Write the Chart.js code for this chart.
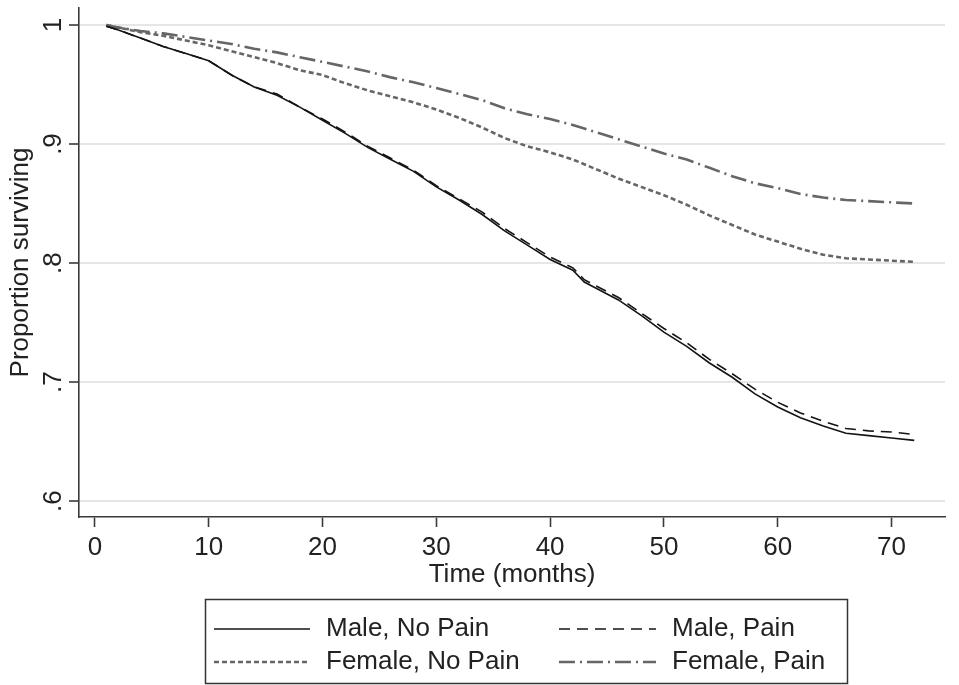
<!DOCTYPE html>
<html>
<head>
<meta charset="utf-8">
<script src="https://cdn.jsdelivr.net/npm/chart.js@4.4.1/dist/chart.umd.min.js"></script>
<style>
  body { margin: 0; background: #fff; }
  #wrap { width: 959px; height: 685px; }
</style>
</head>
<body>
<div id="wrap"><canvas id="chart" width="959" height="685"></canvas></div>
<script>
// follow-up time in months, shared by all four curves
const months = [1, 2, 4, 6, 8, 10, 12, 14, 16, 18, 20, 22, 24, 26, 28, 30, 32, 34, 36, 38,
  40, 42, 43, 44, 46, 48, 50, 52, 54, 56, 58, 60, 62, 64, 66, 68, 70, 72];

const maleNoPain = [0.999, 0.996, 0.989, 0.982, 0.976, 0.970, 0.958, 0.948, 0.941, 0.931,
  0.920, 0.909, 0.897, 0.887, 0.877, 0.864, 0.853, 0.841, 0.827, 0.815,
  0.803, 0.794, 0.784, 0.779, 0.769, 0.756, 0.742, 0.730, 0.716, 0.704,
  0.690, 0.679, 0.670, 0.663, 0.657, 0.655, 0.653, 0.651];

const malePain = [0.999, 0.996, 0.989, 0.982, 0.976, 0.970, 0.958, 0.948, 0.942, 0.931,
  0.921, 0.910, 0.898, 0.888, 0.878, 0.865, 0.854, 0.843, 0.829, 0.817,
  0.805, 0.796, 0.786, 0.781, 0.771, 0.758, 0.745, 0.733, 0.719, 0.707,
  0.694, 0.683, 0.674, 0.667, 0.661, 0.659, 0.658, 0.656];

const femaleNoPain = [1.000, 0.998, 0.994, 0.991, 0.987, 0.983, 0.978, 0.973, 0.968, 0.962,
  0.958, 0.951, 0.945, 0.940, 0.935, 0.929, 0.922, 0.914, 0.905, 0.898,
  0.893, 0.887, 0.883, 0.879, 0.871, 0.864, 0.857, 0.849, 0.840, 0.832,
  0.824, 0.818, 0.812, 0.807, 0.804, 0.803, 0.802, 0.801];

const femalePain = [1.000, 0.998, 0.995, 0.993, 0.990, 0.987, 0.984, 0.980, 0.977, 0.973,
  0.969, 0.965, 0.961, 0.956, 0.952, 0.947, 0.942, 0.937, 0.930, 0.925,
  0.921, 0.916, 0.913, 0.910, 0.904, 0.898, 0.892, 0.887, 0.880, 0.873,
  0.867, 0.863, 0.858, 0.855, 0.853, 0.852, 0.851, 0.850];

const seriesLabels = ['Male, No Pain', 'Male, Pain', 'Female, No Pain', 'Female, Pain'];
const xTicks = [0, 10, 20, 30, 40, 50, 60, 70];
const yTicks = [0.6, 0.7, 0.8, 0.9, 1.0];
const yTickLabels = ['.6', '.7', '.8', '.9', '1'];

const FONT = '"Liberation Sans", Arial, sans-serif';
const FSIZE = 26;
const INK = '#222';
const AXIS = '#3a3a3a';

function pts(ys) {
  return months.map((m, i) => ({ x: m, y: ys[i] }));
}

const styles = [
  { color: '#141414', width: 1.6, dash: [] },
  { color: '#141414', width: 1.6, dash: [11, 7] },
  { color: '#666666', width: 2.6, dash: [5, 3] },
  { color: '#666666', width: 2.6, dash: [16, 5, 2, 5] }
];

const datasets = [maleNoPain, malePain, femaleNoPain, femalePain].map((ys, i) => ({
  label: seriesLabels[i],
  data: pts(ys),
  borderColor: styles[i].color,
  borderWidth: styles[i].width,
  borderDash: styles[i].dash,
  pointRadius: 0,
  tension: 0,
  fill: false
}));

// rotated y tick labels and the boxed legend underneath, Stata style
const extras = {
  id: 'extras',
  afterDraw(chart) {
    const ctx = chart.ctx;
    const ys = chart.scales.y;
    ctx.save();
    ctx.fillStyle = INK;
    ctx.font = FSIZE + 'px ' + FONT;
    ctx.textAlign = 'center';
    ctx.textBaseline = 'alphabetic';
    yTicks.forEach((v, i) => {
      ctx.save();
      ctx.translate(61, ys.getPixelForValue(v));
      ctx.rotate(-Math.PI / 2);
      ctx.fillText(yTickLabels[i], 0, 0);
      ctx.restore();
    });
    ctx.restore();

    // legend
    ctx.save();
    ctx.strokeStyle = '#333';
    ctx.lineWidth = 1.5;
    ctx.strokeRect(205.5, 599.5, 642, 84);
    const cols = [{ x0: 214, x1: 310, tx: 326 }, { x0: 559, x1: 656, tx: 672 }];
    const rows = [629, 662];
    chart.data.datasets.forEach((ds, i) => {
      const c = cols[i % 2];
      const y = rows[Math.floor(i / 2)];
      ctx.beginPath();
      ctx.strokeStyle = ds.borderColor;
      ctx.lineWidth = ds.borderWidth;
      ctx.setLineDash(ds.borderDash);
      ctx.moveTo(c.x0, y);
      ctx.lineTo(c.x1, y);
      ctx.stroke();
      ctx.setLineDash([]);
      ctx.fillStyle = INK;
      ctx.font = FSIZE + 'px ' + FONT;
      ctx.textAlign = 'left';
      ctx.textBaseline = 'middle';
      ctx.fillText(ds.label, c.tx, y);
    });
    ctx.restore();
  }
};

new Chart(document.getElementById('chart'), {
  type: 'line',
  data: { datasets: datasets },
  plugins: [extras],
  options: {
    responsive: false,
    animation: false,
    events: [],
    layout: { padding: { top: 8, right: 14, bottom: 0, left: 0 } },
    plugins: { legend: { display: false }, tooltip: { enabled: false } },
    scales: {
      x: {
        type: 'linear',
        min: -1.4,
        max: 74.7,
        afterBuildTicks: s => { s.ticks = xTicks.map(v => ({ value: v })); },
        afterFit: s => { s.height = 168; },
        border: { display: true, color: AXIS, width: 1.6 },
        grid: { drawOnChartArea: false, drawTicks: true, tickLength: 10, tickColor: AXIS, tickWidth: 1.6 },
        ticks: { color: INK, font: { family: FONT, size: FSIZE }, padding: 5, maxRotation: 0, autoSkip: false },
        title: { display: true, text: 'Time (months)', color: INK, font: { family: FONT, size: FSIZE }, padding: { top: 0, bottom: 95 } }
      },
      y: {
        type: 'linear',
        min: 0.5866,
        max: 1.0143,
        afterBuildTicks: s => { s.ticks = yTicks.map(v => ({ value: v })); },
        afterFit: s => { s.width = 79; },
        border: { display: true, color: AXIS, width: 1.6 },
        grid: { color: '#e6e6e6', lineWidth: 2, drawTicks: true, tickLength: 10, tickColor: AXIS, tickWidth: 1.6 },
        ticks: { display: false },
        title: { display: true, text: 'Proportion surviving', color: INK, font: { family: FONT, size: FSIZE }, padding: { top: 5, bottom: 0 } }
      }
    }
  }
});
</script>
</body>
</html>
